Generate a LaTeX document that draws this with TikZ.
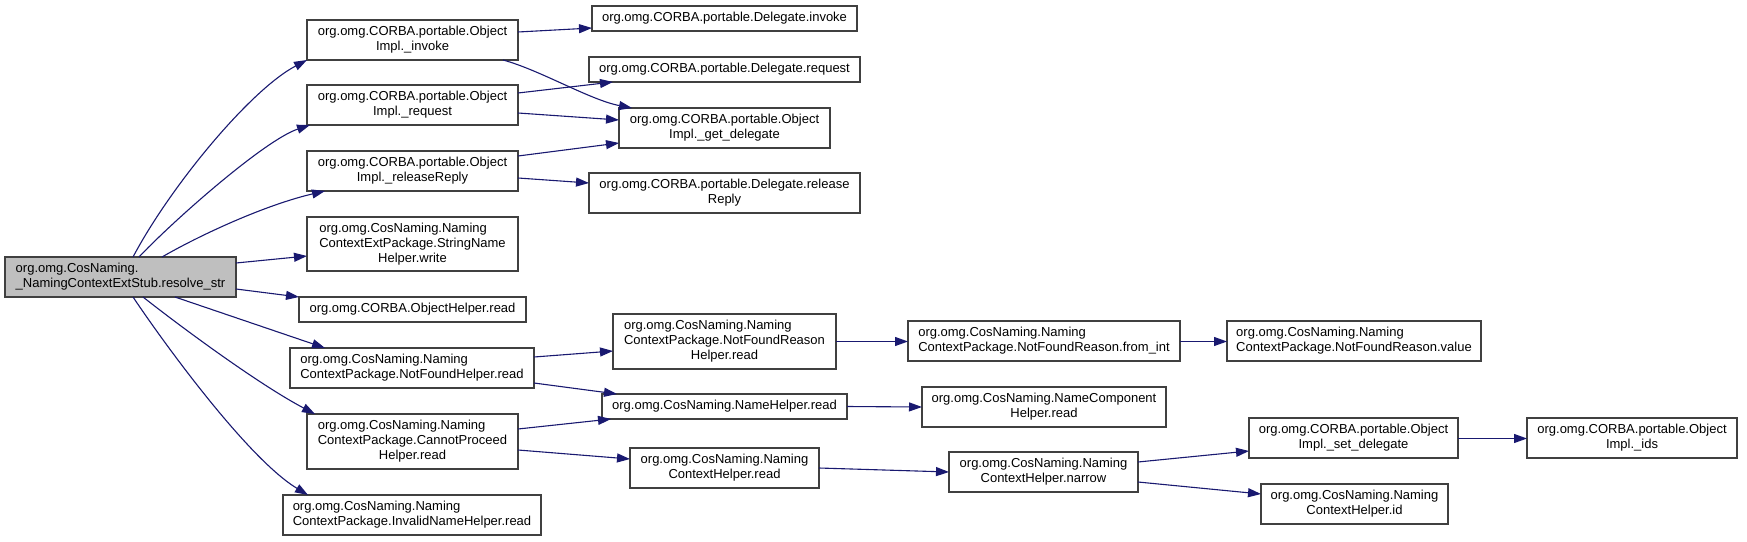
\documentclass[tikz,border=0pt]{standalone}
\usepackage{fontspec}
\setmainfont{Liberation Sans}
\usetikzlibrary{arrows.meta,calc}
\definecolor{edgec}{HTML}{191970}
\definecolor{boxc}{HTML}{404040}
\definecolor{rootc}{HTML}{BFBFBF}
\newcommand{\Lt}[1]{\begin{tabular}{@{}l@{}}#1\end{tabular}}
\newcommand{\Lc}[1]{\multicolumn{1}{@{}c@{}}{#1}}
\begin{document}
\begin{tikzpicture}[x=1pt,y=-1pt,
  box/.style={draw=boxc, line width=1.1pt, fill=white, rectangle, inner sep=0pt, outer sep=0pt, anchor=north west, font=\fontsize{13}{15}\selectfont},
  edge/.style={draw=edgec, line width=1.1pt, -{Triangle[length=13pt,width=9pt]}}]
\useasboundingbox (0,0) rectangle (1747,541);

% column 0
\node[box, fill=rootc, minimum width=231pt, minimum height=40pt] (root) at (5,257) {\Lt{org.omg.CosNaming.\\ \Lc{\_NamingContextExtStub.resolve\_str}}};

% column 1
\node[box, minimum width=211pt, minimum height=40pt] (invoke) at (307,20) {\Lt{org.omg.CORBA.portable.Object\\ \Lc{Impl.\_invoke}}};
\node[box, minimum width=211pt, minimum height=40pt] (request) at (307,85) {\Lt{org.omg.CORBA.portable.Object\\ \Lc{Impl.\_request}}};
\node[box, minimum width=211pt, minimum height=40pt] (rr) at (307,151) {\Lt{org.omg.CORBA.portable.Object\\ \Lc{Impl.\_releaseReply}}};
\node[box, minimum width=211pt, minimum height=54pt] (snh) at (307,217) {\Lt{org.omg.CosNaming.Naming\\ContextExtPackage.StringName\\ \Lc{Helper.write}}};
\node[box, minimum width=227pt, minimum height=25pt] (oh) at (299,297) {\Lt{org.omg.CORBA.ObjectHelper.read}};
\node[box, minimum width=244pt, minimum height=40pt] (nfh) at (290,348) {\Lt{org.omg.CosNaming.Naming\\ \Lc{ContextPackage.NotFoundHelper.read}}};
\node[box, minimum width=211pt, minimum height=55pt] (cph) at (307,414) {\Lt{org.omg.CosNaming.Naming\\ContextPackage.CannotProceed\\ \Lc{Helper.read}}};
\node[box, minimum width=258pt, minimum height=40pt] (inh) at (283,495) {\Lt{org.omg.CosNaming.Naming\\ \Lc{ContextPackage.InvalidNameHelper.read}}};

% column 2
\node[box, minimum width=265pt, minimum height=25pt] (dinv) at (592,6) {\Lt{org.omg.CORBA.portable.Delegate.invoke}};
\node[box, minimum width=271pt, minimum height=25pt] (dreq) at (589,57) {\Lt{org.omg.CORBA.portable.Delegate.request}};
\node[box, minimum width=211pt, minimum height=40pt] (gd) at (619,108) {\Lt{org.omg.CORBA.portable.Object\\ \Lc{Impl.\_get\_delegate}}};
\node[box, minimum width=271pt, minimum height=40pt] (drel) at (589,173) {\Lt{org.omg.CORBA.portable.Delegate.release\\ \Lc{Reply}}};
\node[box, minimum width=223pt, minimum height=55pt] (nfrh) at (613,314) {\Lt{org.omg.CosNaming.Naming\\ContextPackage.NotFoundReason\\ \Lc{Helper.read}}};
\node[box, minimum width=245pt, minimum height=25pt] (nh) at (602,394) {\Lt{org.omg.CosNaming.NameHelper.read}};
\node[box, minimum width=189pt, minimum height=40pt] (nchr) at (630,448) {\Lt{org.omg.CosNaming.Naming\\ \Lc{ContextHelper.read}}};

% column 3
\node[box, minimum width=272pt, minimum height=40pt] (fi) at (908,321) {\Lt{org.omg.CosNaming.Naming\\ \Lc{ContextPackage.NotFoundReason.from\_int}}};
\node[box, minimum width=244pt, minimum height=40pt] (nch) at (922,387) {\Lt{org.omg.CosNaming.NameComponent\\ \Lc{Helper.read}}};
\node[box, minimum width=189pt, minimum height=40pt] (nar) at (949,452) {\Lt{org.omg.CosNaming.Naming\\ \Lc{ContextHelper.narrow}}};

% column 4
\node[box, minimum width=254pt, minimum height=40pt] (val) at (1227,321) {\Lt{org.omg.CosNaming.Naming\\ \Lc{ContextPackage.NotFoundReason.value}}};
\node[box, minimum width=209pt, minimum height=40pt] (sd) at (1249,418) {\Lt{org.omg.CORBA.portable.Object\\ \Lc{Impl.\_set\_delegate}}};
\node[box, minimum width=187pt, minimum height=40pt] (id) at (1261,484) {\Lt{org.omg.CosNaming.Naming\\ \Lc{ContextHelper.id}}};

% column 5
\node[box, minimum width=210pt, minimum height=40pt] (ids) at (1527,418) {\Lt{org.omg.CORBA.portable.Object\\ \Lc{Impl.\_ids}}};

% edges from root
\draw[edge] ($(root.north west)+(128,0)$) .. controls (170,187) and (250,90) .. (invoke.south west);
\draw[edge] ($(root.north west)+(134,0)$) .. controls (175,219) and (265,140) .. ($(request.south west)+(3,0)$);
\draw[edge] ($(root.north west)+(157,0)$) .. controls (200,235) and (265,205) .. ($(rr.south west)+(18,0)$);
\draw[edge] ($(root.north west)+(231,6)$) -- ($(snh.north west)+(0,39)$);
\draw[edge] ($(root.north west)+(231,32)$) -- (oh.north west);
\draw[edge] ($(root.south west)+(170,0)$) -- ($(nfh.north west)+(35,0)$);
\draw[edge] ($(root.south west)+(138,0)$) .. controls (185,330) and (260,385) .. ($(cph.north west)+(8,0)$);
\draw[edge] ($(root.south west)+(128,0)$) .. controls (170,352) and (250,460) .. ($(inh.north west)+(25,0)$);

% edges from column 1
\draw[edge] ($(invoke.north west)+(211,12)$) -- ($(dinv.north west)+(0,22)$);
\draw[edge] ($(invoke.north west)+(196,40)$) .. controls (540,70) and (590,100) .. ($(gd.north west)+(13,0)$);
\draw[edge] ($(request.north west)+(211,8)$) -- ($(dreq.north west)+(24,25)$);
\draw[edge] ($(request.north west)+(211,28)$) -- ($(gd.north west)+(0,12)$);
\draw[edge] ($(rr.north west)+(211,5)$) -- ($(gd.north west)+(0,35)$);
\draw[edge] ($(rr.north west)+(211,27)$) -- ($(drel.north west)+(0,10)$);
\draw[edge] ($(nfh.north west)+(244,9)$) -- ($(nfrh.north west)+(0,37)$);
\draw[edge] ($(nfh.north west)+(244,35)$) -- ($(nh.north west)+(15,0)$);
\draw[edge] ($(cph.north west)+(211,15)$) -- ($(nh.north west)+(9,25)$);
\draw[edge] ($(cph.north west)+(211,36)$) -- ($(nchr.north west)+(0,11)$);

% edges from column 2 onward
\draw[edge] (nfrh.east) -- ($(fi.west)+(0,0.5)$);
\draw[edge] (nh.east) -- (nch.west);
\draw[edge] (nchr.east) -- (nar.west);
\draw[edge] ($(fi.east)+(0,0.5)$) -- ($(val.west)+(0,0.5)$);
\draw[edge] ($(nar.north west)+(189,10)$) -- ($(sd.north west)+(0,33)$);
\draw[edge] ($(nar.north west)+(189,30)$) -- ($(id.north west)+(0,10)$);
\draw[edge] ($(sd.east)+(0,0.5)$) -- ($(ids.west)+(0,0.5)$);
\end{tikzpicture}
\end{document}
